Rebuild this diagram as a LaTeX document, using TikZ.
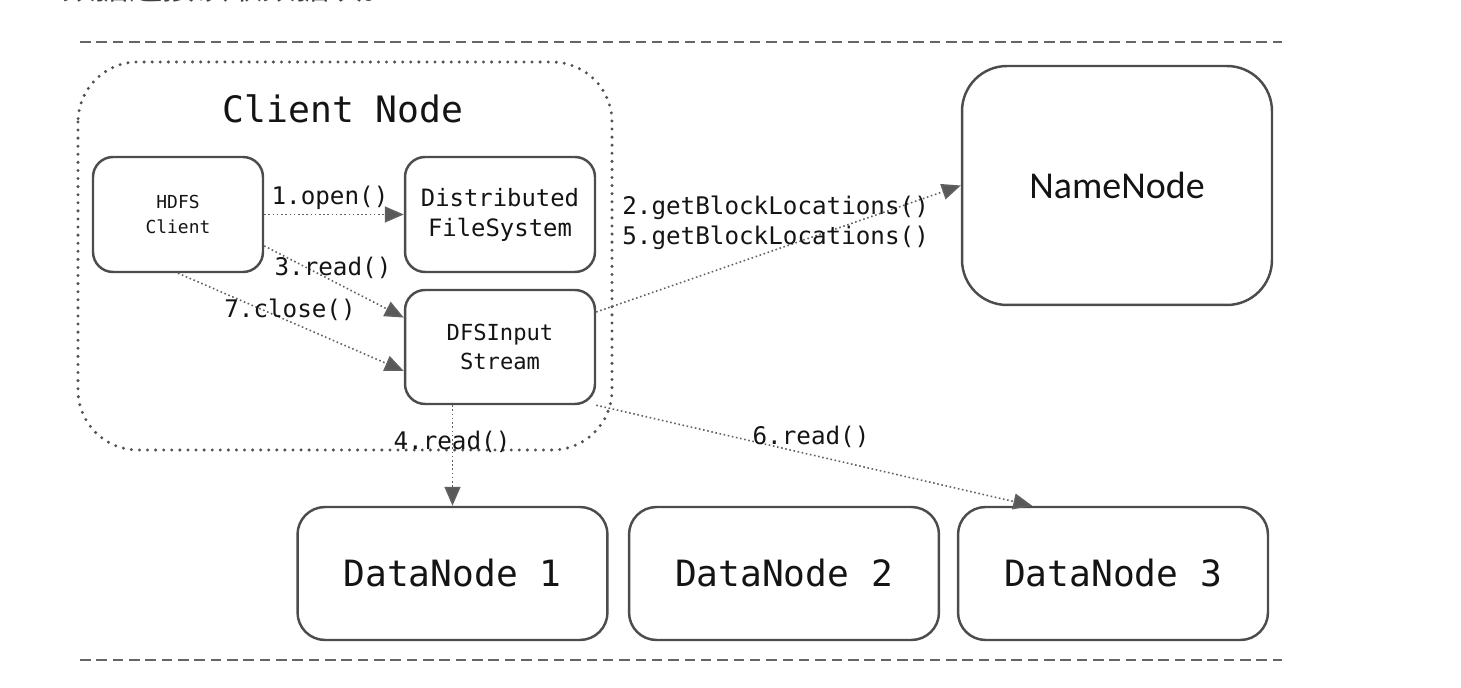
\documentclass[tikz,border=0pt]{standalone}
\usepackage{fontspec}
\newfontfamily\monofont{DejaVu Sans Mono}
\newfontfamily\namefont{Carlito}
\newfontfamily\cjkfont{Noto Sans CJK SC}
\usetikzlibrary{arrows.meta,positioning}

\begin{document}
\begin{tikzpicture}[x=0.02cm,y=-0.02cm,
  box/.style={draw=black!70,line width=1.4pt,rounded corners=.4cm,align=center,
    text=black!92,inner sep=0pt},
  call/.style={draw=black!62,line width=.9pt,dash pattern=on .9pt off 1.5pt,
    -{Triangle[length=3.8mm,width=3.2mm,fill=black!65]}},
  lbl/.style={font=\monofont\fontsize{13.8}{16}\selectfont,text=black!92,inner sep=0pt}]
\useasboundingbox (0,0) rectangle (1461,688);

% cut caption line of the page above
\node[anchor=base west,inner sep=0pt,font=\cjkfont\fontsize{19}{20}\selectfont,text=black!75]
  (caption) at (62,0) {数据连接读取数据块。};

% page rules
\draw[black!60,line width=1.4pt,dash pattern=on 6pt off 3.3pt] (80,42) coordinate (ta) -- (1282,42) coordinate (tb);
\draw[black!60,line width=1.4pt,dash pattern=on 6pt off 3.3pt] (80,660) coordinate (ba) -- (1282,660) coordinate (bb);

% client node frame
\draw[black!68,line width=1.9pt,line cap=round,dash pattern=on 0pt off 4.6pt,rounded corners=1.2cm]
  (78,62) rectangle (612,450);
\node[font=\monofont\fontsize{20.7}{24}\selectfont,text=black!92] (clienttitle) at (343,109) {Client Node};

\node[box,minimum width=3.4cm,minimum height=2.3cm,font=\monofont\fontsize{10.2}{14}\selectfont]
  (hdfs) at (178,214.5) {HDFS\\Client};
\node[box,minimum width=3.8cm,minimum height=2.3cm,font=\monofont\fontsize{13.6}{17}\selectfont]
  (dfs) at (500,214.5) {Distributed\\FileSystem};
\node[box,minimum width=3.8cm,minimum height=2.28cm,font=\monofont\fontsize{12.6}{17}\selectfont]
  (dfsin) at (500,347) {DFSInput\\Stream};

\node[box,minimum width=6.2cm,minimum height=4.78cm,rounded corners=.9cm,
  font=\namefont\fontsize{21.6}{24}\selectfont] (namenode) at (1117,185.5) {NameNode};

\foreach \n/\x in {1/452.5,2/784,3/1113}
  \node[box,minimum width=6.2cm,minimum height=2.66cm,rounded corners=.55cm,
    font=\monofont\fontsize{20.6}{24}\selectfont] (dn\n) at (\x,573.5) {DataNode \n};

% calls
\draw[call] (hdfs.east) -- (dfs.west);
\draw[call] (hdfs.-20) -- (dfsin.163);
\draw[call] (hdfs.south) -- (dfsin.194);
\draw[call] (dfsin.20) -- (namenode.west);
\draw[call] (dfsin.south -| dn1.north) -- (dn1.north);
\draw[call] (dfsin.south east) -- (dn3.140);

\node[lbl] (l1) at (330,198) {1.open()};
\node[lbl] (l3) at (333,268) {3.read()};
\node[lbl] (l7) at (290,310) {7.close()};
\node[lbl,anchor=west] (l2) at (622,208) {2.getBlockLocations()};
\node[lbl,anchor=west] (l5) at (622,238) {5.getBlockLocations()};
\node[lbl] (l4) at (452,442) {4.read()};
\node[lbl] (l6) at (811,437) {6.read()};
\end{tikzpicture}
\end{document}
